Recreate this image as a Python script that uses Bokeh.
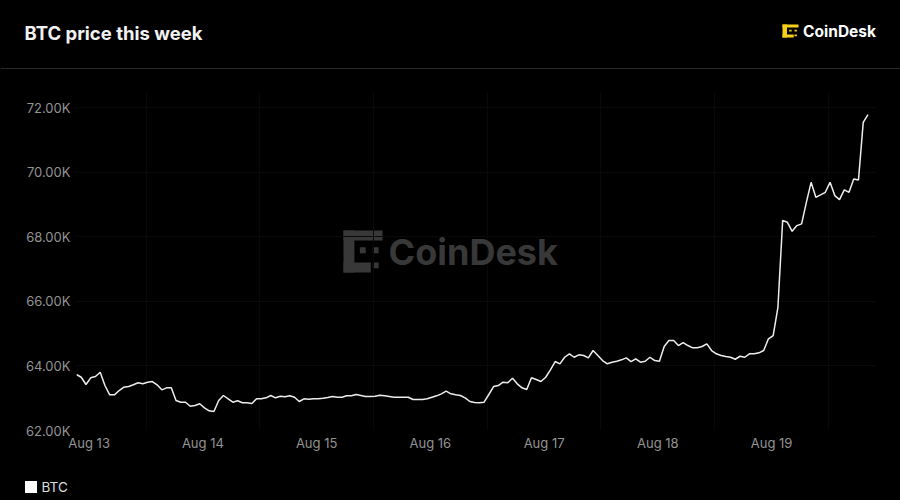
# BTC price this week (CoinDesk style) - hourly closes
import pandas as pd
from bokeh.core.properties import value
from bokeh.embed import file_html
from bokeh.layouts import column
from bokeh.models import ColumnDataSource, DatetimeTickFormatter, FixedTicker, Label, Legend, LegendItem, Range1d
from bokeh.plotting import figure
from bokeh.resources import INLINE

# %%
# data
title_text = "BTC price this week"
brand = "CoinDesk"
series_name = "BTC"

start = "2024-08-12 21:20"  # first hourly point
prices = [
    63734, 63650, 63424, 63632, 63672, 63805, 63393, 63105, 63105, 63238,
    63341, 63362, 63415, 63477, 63446, 63495, 63517, 63415, 63260, 63322,
    63322, 62929, 62876, 62876, 62752, 62774, 62827, 62703, 62610, 62588,
    62929, 63084, 62981, 62876, 62920, 62858, 62858, 62836, 62981, 62981,
    63012, 63084, 63012, 63062, 63043, 63074, 63031, 62898, 62981, 62969,
    62981, 62981, 63000, 63022, 63053, 63031, 63031, 63074, 63074, 63115,
    63084, 63053, 63053, 63062, 63093, 63074, 63053, 63031, 63031, 63031,
    63031, 62960, 62960, 62960, 62981, 63031, 63074, 63136, 63217, 63136,
    63105, 63084, 63012, 62898, 62867, 62858, 62876, 63115, 63362, 63393,
    63495, 63477, 63619, 63446, 63322, 63269, 63632, 63579, 63517, 63650,
    63879, 64136, 64065, 64269, 64375, 64269, 64344, 64322, 64251, 64477,
    64322, 64167, 64065, 64115, 64146, 64189, 64251, 64136, 64220, 64115,
    64146, 64269, 64167, 64146, 64601, 64786, 64786, 64632, 64724, 64632,
    64561, 64561, 64601, 64684, 64477, 64375, 64322, 64291, 64269, 64207,
    64300, 64269, 64375, 64375, 64406, 64477, 64839, 64941, 65817, 68502,
    68449, 68170, 68347, 68400, 69068, 69687, 69223, 69297, 69378, 69687,
    69276, 69152, 69452, 69378, 69793, 69762, 71545, 71783,
]

day_ticks = ["2024-08-13", "2024-08-14", "2024-08-15", "2024-08-16", "2024-08-17", "2024-08-18", "2024-08-19"]
y_ticks = [62000, 64000, 66000, 68000, 70000, 72000]
y_labels = ["62.00K", "64.00K", "66.00K", "68.00K", "70.00K", "72.00K"]


def ms(t):
    return pd.Timestamp(t).value / 1e6


HOUR = 3600 * 1000
times = pd.date_range(start, periods=len(prices), freq="h")
source = ColumnDataSource(data=dict(x=times, y=prices))

FONT = "Inter"
BG = "black"
W = 900


def blank(h):
    # frame = whole canvas, pixel coordinates with y going down
    f = figure(width=W, height=h, x_range=Range1d(0, W), y_range=Range1d(h, 0), title=None,
               x_axis_location=None, y_axis_location=None, min_border=0, frame_align=False,
               output_backend="svg", toolbar_location=None,
               background_fill_color=BG, border_fill_color=BG, outline_line_color=None)
    f.grid.visible = False
    return f


def logo_mark(f, X, Y, x0, y0, x1, y1, color, level="glyph"):
    # bracket + dots logo inside the pixel box (x0, y0)-(x1, y1)
    w, h = x1 - x0, y1 - y0
    parts = [(0, 0, 1, 0.24), (0, 0, 0.28, 1), (0, 0.76, 0.7, 1),
             (0.42, 0.4, 0.57, 0.54), (0.75, 0.4, 0.9, 0.54), (0.75, 0.76, 0.9, 0.9)]
    f.quad(left=[X(x0 + a * w) for a, _, _, _ in parts], right=[X(x0 + c * w) for _, _, c, _ in parts],
           top=[Y(y0 + b * h) for _, b, _, _ in parts], bottom=[Y(y0 + d * h) for _, _, _, d in parts],
           fill_color=color, line_color=None, level=level)


# %%
# header
head = blank(75)
head.text(x=[24], y=[32.5], text=[title_text], text_font=value(FONT), text_font_style="bold",
          text_font_size="18.5px", text_color="#f2f2f2", text_align="left", text_baseline="middle")
head.segment(x0=[0], x1=[W], y0=[68], y1=[68], line_color="#2a2a2a", line_width=1)
logo_mark(head, lambda v: v, lambda v: v, 782, 24, 798, 37, "#f7d117")
head.text(x=[875.5], y=[31], text=[brand], text_font=value(FONT), text_font_style="bold",
          text_font_size="15.5px", text_color="white", text_align="right", text_baseline="middle")

# %%
# main chart  (frame: page x 76..876, y 91..430)
x_range = Range1d(start=ms(times[0]), end=ms(times[0]) + 168.8 * HOUR)
y_range = Range1d(start=62000, end=72500)
p = figure(width=W, height=395, x_axis_type="datetime", x_range=x_range, y_range=y_range, title=None,
           output_backend="svg", toolbar_location=None,
           min_border_left=76, min_border_right=24, min_border_top=16, min_border_bottom=40,
           background_fill_color=BG, border_fill_color=BG, outline_line_color=None)

AX = "#939393"
p.xaxis.ticker = FixedTicker(ticks=[ms(d) for d in day_ticks])
p.xaxis.formatter = DatetimeTickFormatter(days="%b %d", hours="%b %d", months="%b %d")
p.yaxis.ticker = FixedTicker(ticks=y_ticks)
p.yaxis.major_label_overrides = dict(zip(y_ticks, y_labels))
for ax in (p.xaxis, p.yaxis):
    ax.axis_line_color = None
    ax.major_tick_line_color = None
    ax.minor_tick_line_color = None
    ax.major_tick_out = 0
    ax.major_label_text_color = AX
    ax.major_label_text_font = FONT
    ax.major_label_text_font_size = "13px"
p.xaxis.major_label_standoff = 4
p.yaxis.major_label_standoff = 6

# grid is almost invisible in the original
p.xgrid.ticker = FixedTicker(ticks=[ms(d) + 12 * HOUR for d in day_ticks])
p.xgrid.grid_line_color = "#090909"
p.ygrid.grid_line_color = "#0a0a0a"


# page pixel -> data, for the watermark
def X(px):
    return ms(times[0]) + (px - 76) / 800 * 168.8 * HOUR


def Y(py):
    return 62000 + (430 - py) / 339 * 10500


WM = "#383838"
p.add_layout(Label(x=312, y=178.5, x_units="screen", y_units="screen", text=brand,
                   text_font=FONT, text_font_style="bold", text_font_size="36px", text_color=WM,
                   text_align="left", text_baseline="middle", level="underlay"))
logo_mark(p, X, Y, 343, 230, 382, 272, WM, level="underlay")

p.line("x", "y", source=source, color="#ededed", line_width=1.5)

# %%
# footer with legend
foot = blank(30)
swatch = foot.quad(left=[-40], right=[-30], top=[-40], bottom=[-30], fill_color="white", line_color=None)
legend = Legend(items=[LegendItem(label=series_name, renderers=[swatch])], location=(22.5, 5.5),
                orientation="horizontal", padding=0, margin=0, spacing=0,
                glyph_width=15, glyph_height=15, label_height=15, label_standoff=4,
                label_text_font=FONT, label_text_font_size="13.5px", label_text_color="#dddddd",
                background_fill_alpha=0, border_line_color=None)
foot.add_layout(legend)

page = column(head, p, foot, spacing=0, background=BG)
open("out.html", "w").write(file_html(page, INLINE))
